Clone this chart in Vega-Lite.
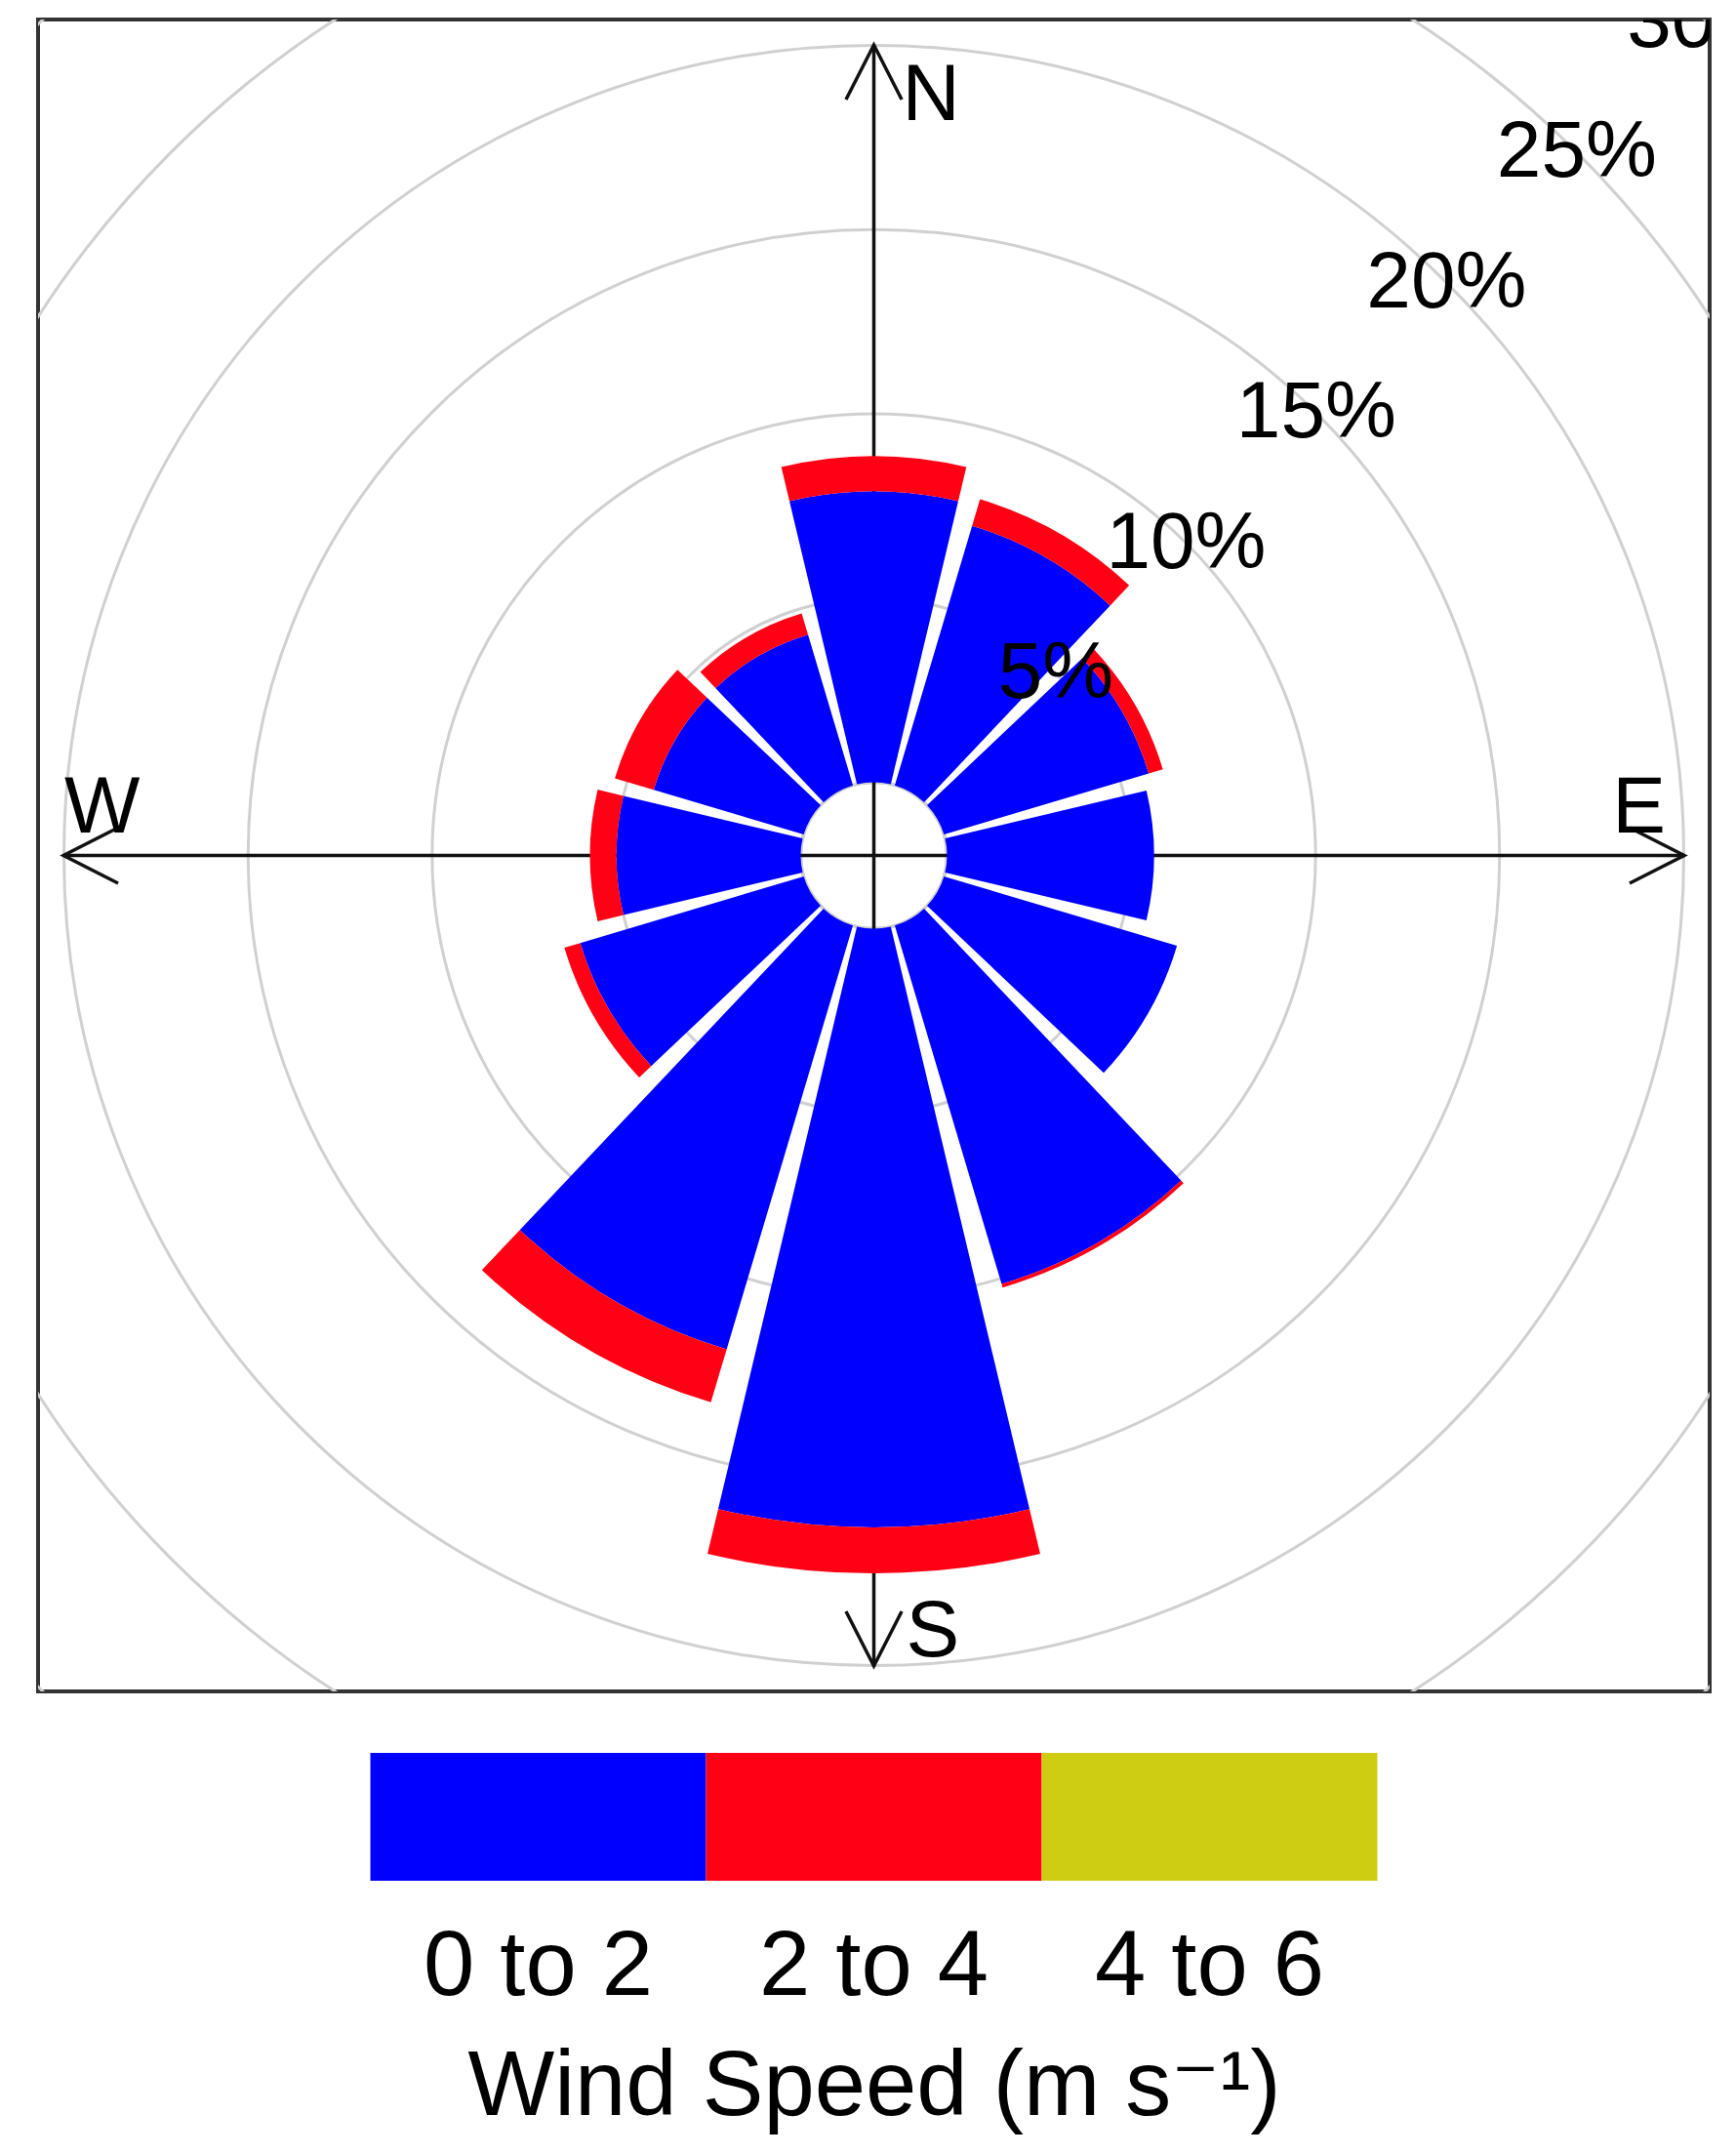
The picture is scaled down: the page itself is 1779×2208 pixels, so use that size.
{
  "$schema": "https://vega.github.io/schema/vega-lite/v6.json",
  "background": "white",
  "padding": {"left": 37, "top": 18, "right": 29, "bottom": 5},
  "spacing": 61,
  "config": {
    "view": {"stroke": null},
    "font": "Liberation Sans, DejaVu Sans, sans-serif"
  },
  "datasets": {
    "rose": [
      {"dir": 0, "speed": "0 to 2", "freq": 7.9},
      {"dir": 0, "speed": "2 to 4", "freq": 0.95},
      {"dir": 30, "speed": "0 to 2", "freq": 7.35},
      {"dir": 30, "speed": "2 to 4", "freq": 0.75},
      {"dir": 60, "speed": "0 to 2", "freq": 5.8},
      {"dir": 60, "speed": "2 to 4", "freq": 0.4},
      {"dir": 90, "speed": "0 to 2", "freq": 5.62},
      {"dir": 120, "speed": "0 to 2", "freq": 6.6},
      {"dir": 150, "speed": "0 to 2", "freq": 10.15},
      {"dir": 150, "speed": "2 to 4", "freq": 0.1},
      {"dir": 180, "speed": "0 to 2", "freq": 16.25},
      {"dir": 180, "speed": "2 to 4", "freq": 1.25},
      {"dir": 210, "speed": "0 to 2", "freq": 12.0},
      {"dir": 210, "speed": "2 to 4", "freq": 1.5},
      {"dir": 240, "speed": "0 to 2", "freq": 6.33},
      {"dir": 240, "speed": "2 to 4", "freq": 0.45},
      {"dir": 270, "speed": "0 to 2", "freq": 5.0},
      {"dir": 270, "speed": "2 to 4", "freq": 0.72},
      {"dir": 300, "speed": "0 to 2", "freq": 4.25},
      {"dir": 300, "speed": "2 to 4", "freq": 1.1},
      {"dir": 330, "speed": "0 to 2", "freq": 4.27},
      {"dir": 330, "speed": "2 to 4", "freq": 0.6}
    ],
    "rings": [
      {"p": 5, "label": "5%"},
      {"p": 10, "label": "10%"},
      {"p": 15, "label": "15%"},
      {"p": 20, "label": "20%"},
      {"p": 25, "label": "25%"},
      {"p": 30, "label": "30%"}
    ],
    "compass": [
      {"dir": 0, "label": "N"},
      {"dir": 90, "label": "E"},
      {"dir": 180, "label": "S"},
      {"dir": 270, "label": "W"}
    ],
    "legend": [
      {"band": "0 to 2"},
      {"band": "2 to 4"},
      {"band": "4 to 6"}
    ]
  },
  "vconcat": [
    {
      "width": 1713,
      "height": 1713,
      "view": {"stroke": "#333333", "strokeWidth": 4},
      "layer": [
        {
          "data": {"name": "rings"},
          "transform": [
            {"calculate": "0", "as": "t0"},
            {"calculate": "360", "as": "t1"}
          ],
          "mark": {"type": "arc", "filled": false, "stroke": "#d0d0d0", "strokeWidth": 3, "clip": true},
          "encoding": {
            "theta": {"field": "t0", "type": "quantitative", "stack": null, "scale": {"domain": [0, 360], "range": [0, 6.283185307179586]}},
            "theta2": {"field": "t1"},
            "radius": {"field": "p", "type": "quantitative", "stack": null, "scale": {"type": "linear", "domain": [0, 20.702], "range": [75, 856.5], "zero": false, "nice": false}}
          }
        },
        {
          "data": {"name": "compass"},
          "transform": [
            {"calculate": "22*sin(datum.dir*PI/180)", "as": "tx"},
            {"calculate": "22*cos(datum.dir*PI/180)", "as": "ty"},
            {"calculate": "0", "as": "ox"}
          ],
          "layer": [
            {
              "mark": {"type": "rule", "color": "#111111", "strokeWidth": 3.5},
              "encoding": {
                "x": {"field": "ox", "type": "quantitative", "scale": {"domain": [-22.69, 22.69], "nice": false, "zero": false}, "axis": null},
                "y": {"field": "ox", "type": "quantitative", "scale": {"domain": [-22.69, 22.69], "nice": false, "zero": false}, "axis": null},
                "x2": {"field": "tx"},
                "y2": {"field": "ty"}
              }
            },
            {
              "mark": {"type": "point", "shape": "M-0.51,1L0,0L0.51,1", "filled": false, "stroke": "#111111", "strokeWidth": 3.5, "size": 12544, "opacity": 1},
              "encoding": {
                "x": {"field": "tx", "type": "quantitative", "axis": null},
                "y": {"field": "ty", "type": "quantitative", "axis": null},
                "angle": {"field": "dir", "type": "quantitative", "scale": {"domain": [0, 360], "range": [0, 360]}, "legend": null}
              }
            }
          ]
        },
        {
          "data": {"name": "rose"},
          "transform": [
            {"stack": "freq", "groupby": ["dir"], "sort": [{"field": "speed", "order": "ascending"}], "as": ["r0", "r1"]},
            {"calculate": "datum.dir - 13.4", "as": "a0"},
            {"calculate": "datum.dir + 13.4", "as": "a1"}
          ],
          "mark": {"type": "arc"},
          "encoding": {
            "theta": {"field": "a0", "type": "quantitative", "stack": null},
            "theta2": {"field": "a1"},
            "radius": {"field": "r1", "type": "quantitative", "stack": null},
            "radius2": {"field": "r0"},
            "color": {"field": "speed", "type": "nominal", "scale": {"domain": ["0 to 2", "2 to 4", "4 to 6"], "range": ["#0000FF", "#FF0014", "#CFCC14"]}, "legend": null}
          }
        },
        {
          "data": {"name": "rings"},
          "transform": [{"calculate": "45", "as": "ang"}],
          "mark": {"type": "text", "fontSize": 82, "align": "center", "baseline": "middle", "clip": true, "color": "#000000"},
          "encoding": {
            "theta": {"field": "ang", "type": "quantitative", "stack": null},
            "radius": {"field": "p", "type": "quantitative", "stack": null},
            "text": {"field": "label", "type": "nominal"}
          }
        },
        {
          "data": {"name": "compass"},
          "transform": [
            {"calculate": "22*sin(datum.dir*PI/180)", "as": "tx"},
            {"calculate": "22*cos(datum.dir*PI/180)", "as": "ty"}
          ],
          "layer": [
            {
              "transform": [{"filter": "datum.dir == 0"}],
              "mark": {"type": "text", "align": "left", "baseline": "alphabetic", "dx": 29, "dy": 77, "fontSize": 82, "color": "#000000"},
              "encoding": {"x": {"field": "tx", "type": "quantitative", "axis": null}, "y": {"field": "ty", "type": "quantitative", "axis": null}, "text": {"field": "label", "type": "nominal"}}
            },
            {
              "transform": [{"filter": "datum.dir == 180"}],
              "mark": {"type": "text", "align": "left", "baseline": "alphabetic", "dx": 33, "dy": -10, "fontSize": 82, "color": "#000000"},
              "encoding": {"x": {"field": "tx", "type": "quantitative", "axis": null}, "y": {"field": "ty", "type": "quantitative", "axis": null}, "text": {"field": "label", "type": "nominal"}}
            },
            {
              "transform": [{"filter": "datum.dir == 270"}],
              "mark": {"type": "text", "align": "left", "baseline": "alphabetic", "dx": 1, "dy": -24, "fontSize": 82, "color": "#000000"},
              "encoding": {"x": {"field": "tx", "type": "quantitative", "axis": null}, "y": {"field": "ty", "type": "quantitative", "axis": null}, "text": {"field": "label", "type": "nominal"}}
            },
            {
              "transform": [{"filter": "datum.dir == 90"}],
              "mark": {"type": "text", "align": "right", "baseline": "alphabetic", "dx": -19, "dy": -24, "fontSize": 82, "color": "#000000"},
              "encoding": {"x": {"field": "tx", "type": "quantitative", "axis": null}, "y": {"field": "ty", "type": "quantitative", "axis": null}, "text": {"field": "label", "type": "nominal"}}
            }
          ]
        }
      ]
    },
    {
      "width": 1713,
      "height": 131,
      "data": {"name": "legend"},
      "mark": {"type": "rect"},
      "encoding": {
        "x": {
          "field": "band",
          "type": "nominal",
          "sort": null,
          "scale": {"paddingInner": 0, "paddingOuter": 0.99},
          "axis": {
            "orient": "bottom",
            "domain": false,
            "ticks": false,
            "grid": false,
            "labelAngle": 0,
            "labelFontSize": 94,
            "labelLimit": 0,
            "labelPadding": 42,
            "labelColor": "#000000",
            "title": "Wind Speed (m s⁻¹)",
            "titleFontSize": 94,
            "titleFontWeight": "normal",
            "titleColor": "#000000",
            "titlePadding": 30,
            "titleLimit": 0
          }
        },
        "color": {"field": "band", "type": "nominal", "legend": null}
      }
    }
  ]
}
